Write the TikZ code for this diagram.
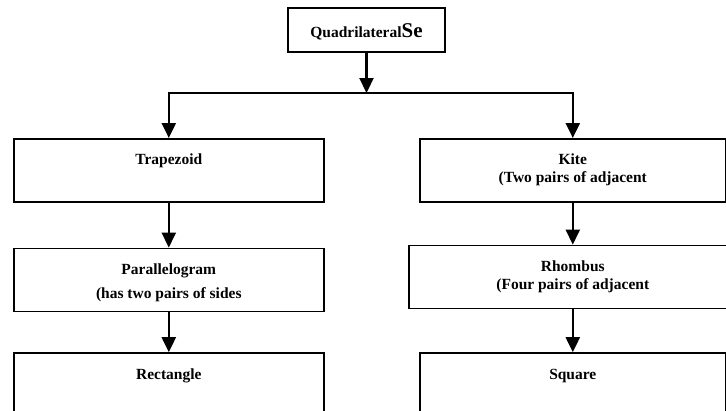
\documentclass[tikz,border=0pt]{standalone}
\usepackage{fontspec}
\setmainfont{Liberation Serif}
\usetikzlibrary{positioning,arrows.meta}

% text of a box: #1 box height, #2 line spacing, #3 text
\newcommand{\boxtext}[3]{\parbox[t][#1][t]{290pt}{\centering\fontsize{15.5}{#2}\selectfont\bfseries\rule{0pt}{26pt}#3}}

\begin{document}
\begin{tikzpicture}[
    x=1pt, y=-1pt,
    block/.style={
        rectangle,
        draw,
        line width=1.6pt,
        inner sep=0pt,
        minimum width=310pt
    },
    topbox/.style={
        rectangle,
        draw,
        line width=1.6pt,
        inner sep=0pt,
        minimum width=157pt,
        minimum height=44pt,
        text height=18pt,
        text depth=3pt,
        font=\bfseries
    },
    link/.style={
        draw,
        line width=2.2pt,
        -{Triangle[width=14pt,length=15pt]}
    }
]
    \clip (0,0) rectangle (726,410);

    % --- Top ---
    \node [topbox] (quad) at (366.5,30) {{\fontsize{15.5}{18}\selectfont Quadrilateral}{\fontsize{21}{24}\selectfont Se}};
    \coordinate (split) at (366.5,93);

    % --- Left column ---
    \node [block, anchor=north west] (trap) at (13,138) {\boxtext{63pt}{24pt}{Trapezoid}};
    \node [block, below=45pt of trap] (para) {\boxtext{63pt}{24pt}{Parallelogram\\(has two pairs of sides}};
    \node [block, below=40pt of para] (rect) {\boxtext{90pt}{24pt}{Rectangle}};

    % --- Right column ---
    \node [block, minimum width=306pt, anchor=north west] (kite) at (419,138) {\boxtext{63pt}{18pt}{Kite\\(Two pairs of adjacent}};
    \node [block, minimum width=328pt, below=42pt of kite] (rhomb) {\boxtext{63pt}{18pt}{Rhombus\\(Four pairs of adjacent}};
    \node [block, minimum width=306pt, below=43pt of rhomb] (square) {\boxtext{90pt}{18pt}{Square}};

    % --- Connections ---
    \path [link] (quad) -- (split);
    \path [link] (split) -| (trap);
    \path [link] (split) -| (kite);
    \path [link] (trap) -- (para);
    \path [link] (para) -- (rect);
    \path [link] (kite) -- (rhomb);
    \path [link] (rhomb) -- (square);

\end{tikzpicture}
\end{document}
